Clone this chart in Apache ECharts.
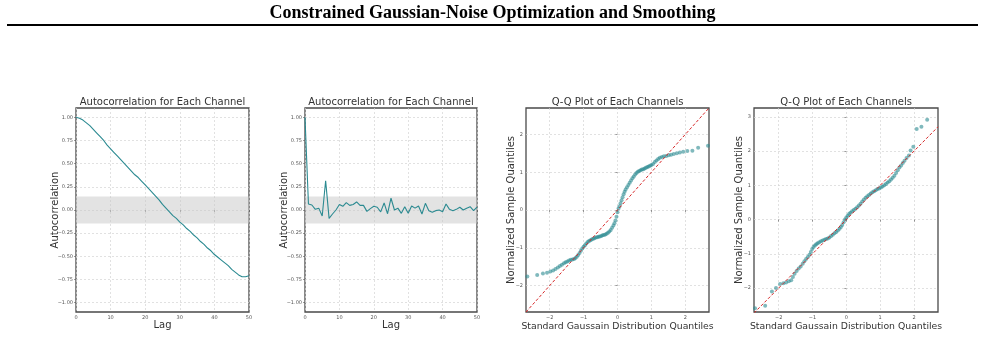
<!DOCTYPE html>
<html>
<head>
<meta charset="utf-8">
<script src="https://cdn.jsdelivr.net/npm/echarts@6/dist/echarts.min.js"></script>
<style>
  html, body { margin: 0; padding: 0; background: #fff; }
  #chart { width: 985px; height: 357px; }
</style>
</head>
<body>
<div id="chart"></div>
<script>
// autocorrelation, smoothed channel (lag 0..50)
const acfSmooth = [1.00, 0.99, 0.97, 0.94, 0.91, 0.87, 0.83, 0.79, 0.75, 0.70,
  0.66, 0.62, 0.58, 0.54, 0.50, 0.46, 0.42, 0.38, 0.35, 0.31,
  0.27, 0.23, 0.19, 0.15, 0.11, 0.06, 0.02, -0.02, -0.06, -0.09,
  -0.13, -0.16, -0.20, -0.23, -0.27, -0.30, -0.34, -0.37, -0.41, -0.44,
  -0.48, -0.51, -0.54, -0.57, -0.60, -0.64, -0.67, -0.70, -0.72, -0.72, -0.71];

// autocorrelation, noise channel (lag 0..50)
const acfNoise = [1.00, 0.065, 0.054, 0.007, 0.02, -0.065, 0.315, -0.09, -0.043, 0.0,
  0.06, 0.04, 0.08, 0.05, 0.06, 0.087, 0.05, 0.05, -0.015, 0.015,
  0.04, 0.03, -0.02, 0.076, -0.04, 0.127, 0.0, 0.02, -0.036, 0.036,
  -0.036, 0.043, 0.02, 0.043, -0.043, 0.072, -0.007, -0.025, -0.007, 0.0,
  -0.018, 0.065, 0.007, -0.007, 0.007, 0.03, 0.0, 0.02, 0.036, -0.007, 0.03];

const confBand = [-0.145, 0.145];
const acfTicks = [-1, -0.75, -0.5, -0.25, 0, 0.25, 0.5, 0.75, 1];
const lagTicks = [0, 10, 20, 30, 40, 50];

// Q-Q plot, left channel: [theoretical, sample]
const qqLeft = [
  [-2.66, -1.76], [-2.37, -1.72], [-2.20, -1.68], [-2.08, -1.66], [-1.98, -1.63],
  [-1.90, -1.60], [-1.83, -1.56], [-1.76, -1.52], [-1.70, -1.48], [-1.64, -1.45],
  [-1.58, -1.41], [-1.53, -1.38], [-1.48, -1.36], [-1.43, -1.34], [-1.38, -1.32],
  [-1.33, -1.31], [-1.28, -1.30], [-1.24, -1.27], [-1.20, -1.24], [-1.16, -1.19],
  [-1.12, -1.14], [-1.08, -1.08], [-1.04, -1.02], [-1.00, -0.97], [-0.96, -0.93],
  [-0.92, -0.89], [-0.88, -0.85], [-0.84, -0.82], [-0.80, -0.80], [-0.76, -0.78],
  [-0.72, -0.76], [-0.68, -0.75], [-0.64, -0.73], [-0.60, -0.72], [-0.56, -0.71],
  [-0.52, -0.70], [-0.48, -0.69], [-0.44, -0.67], [-0.40, -0.66], [-0.36, -0.65],
  [-0.32, -0.63], [-0.28, -0.60], [-0.24, -0.57], [-0.20, -0.53], [-0.16, -0.47],
  [-0.12, -0.41], [-0.09, -0.35], [-0.06, -0.28], [-0.03, -0.18], [0.00, -0.06],
  [0.03, 0.04], [0.06, 0.10], [0.09, 0.18], [0.12, 0.26], [0.15, 0.34],
  [0.18, 0.42], [0.21, 0.48], [0.24, 0.54], [0.28, 0.60], [0.32, 0.66],
  [0.36, 0.72], [0.40, 0.78], [0.44, 0.84], [0.48, 0.89], [0.52, 0.94],
  [0.56, 0.98], [0.60, 1.01], [0.64, 1.03], [0.68, 1.05], [0.72, 1.07],
  [0.76, 1.08], [0.80, 1.10], [0.84, 1.12], [0.88, 1.14], [0.92, 1.15],
  [0.96, 1.17], [1.00, 1.19], [1.05, 1.22], [1.10, 1.27], [1.15, 1.31],
  [1.20, 1.35], [1.25, 1.38], [1.31, 1.40], [1.37, 1.42], [1.44, 1.43],
  [1.51, 1.45], [1.58, 1.46], [1.66, 1.48], [1.75, 1.50], [1.84, 1.52],
  [1.94, 1.54], [2.06, 1.56], [2.21, 1.57], [2.38, 1.65], [2.67, 1.70]
];

// Q-Q plot, right channel: [theoretical, sample]
const qqRight = [
  [-2.70, -2.59], [-2.40, -2.52], [-2.20, -2.10], [-2.08, -2.00], [-1.96, -1.88],
  [-1.86, -1.86], [-1.78, -1.84], [-1.70, -1.80], [-1.63, -1.77], [-1.58, -1.68],
  [-1.53, -1.58], [-1.47, -1.50], [-1.41, -1.43], [-1.35, -1.37], [-1.29, -1.29],
  [-1.24, -1.22], [-1.19, -1.15], [-1.14, -1.09], [-1.09, -1.03], [-1.05, -0.95],
  [-1.01, -0.86], [-0.97, -0.80], [-0.93, -0.76], [-0.89, -0.72], [-0.85, -0.69],
  [-0.80, -0.66], [-0.75, -0.63], [-0.70, -0.61], [-0.65, -0.59], [-0.60, -0.57],
  [-0.55, -0.55], [-0.50, -0.52], [-0.45, -0.48], [-0.40, -0.44], [-0.35, -0.40],
  [-0.30, -0.36], [-0.25, -0.32], [-0.20, -0.27], [-0.16, -0.22], [-0.12, -0.16],
  [-0.08, -0.08], [-0.04, 0.00], [0.00, 0.06], [0.04, 0.11], [0.08, 0.16],
  [0.12, 0.20], [0.17, 0.24], [0.22, 0.28], [0.27, 0.32], [0.32, 0.36],
  [0.37, 0.41], [0.42, 0.46], [0.47, 0.53], [0.52, 0.59], [0.57, 0.64],
  [0.62, 0.68], [0.67, 0.72], [0.72, 0.76], [0.77, 0.80], [0.82, 0.83],
  [0.87, 0.86], [0.92, 0.89], [0.97, 0.91], [1.02, 0.94], [1.07, 0.97],
  [1.12, 1.00], [1.17, 1.04], [1.22, 1.08], [1.27, 1.12], [1.32, 1.17],
  [1.37, 1.22], [1.42, 1.28], [1.47, 1.36], [1.52, 1.44], [1.57, 1.52],
  [1.62, 1.58], [1.67, 1.65], [1.72, 1.72], [1.78, 1.80], [1.85, 1.87],
  [1.90, 2.02], [1.98, 2.13], [2.08, 2.65], [2.22, 2.71], [2.39, 2.92]
];

const qqRefLeft = [[-2.7, -2.7], [2.7, 2.7]];
const qqRefRight = [[-2.73, -2.73], [2.71, 2.71]];
const qqTicksLeft = [-2, -1, 0, 1, 2];
const qqTicksRightY = [-2, -1, 0, 1, 2, 3];

const mainTitle = 'Constrained Gaussian-Noise Optimization and Smoothing';
const acfTitle = 'Autocorrelation for Each Channel';
const qqTitle = 'Q-Q Plot of Each Channels';

const TEAL = '#2b8a91';
const FONT = 'DejaVu Sans';

const grids = [
  { left: 76, top: 108, width: 173, height: 204 },
  { left: 305, top: 108, width: 172, height: 204 },
  { left: 526, top: 108, width: 183, height: 204 },
  { left: 754, top: 108, width: 184, height: 204 }
];

const minusFmt = (dec) => (v) => {
  const s = dec ? v.toFixed(dec) : String(v);
  return s.replace('-', '\u2212');
};

function makeAxis(idx, opts) {
  return {
    gridIndex: idx,
    type: 'value',
    min: opts.min,
    max: opts.max,
    name: opts.name,
    nameLocation: 'middle',
    nameGap: opts.nameGap,
    nameMoveOverlap: false,
    nameTextStyle: { fontFamily: FONT, fontSize: opts.nameSize || 10, color: '#333' },
    axisLine: { show: false },
    axisTick: { show: true, length: 2, lineStyle: { color: '#555', width: 0.6 }, customValues: opts.ticks },
    axisLabel: {
      customValues: opts.ticks,
      fontFamily: FONT, fontSize: 5, color: '#555', margin: 3,
      formatter: minusFmt(opts.dec)
    },
    splitLine: { show: true, lineStyle: { color: '#d4d4d4', type: [2, 2], width: 0.7 } }
  };
}

const xAxes = [
  makeAxis(0, { min: 0, max: 50, ticks: lagTicks, name: 'Lag', nameGap: 8 }),
  makeAxis(1, { min: 0, max: 50, ticks: lagTicks, name: 'Lag', nameGap: 8 }),
  makeAxis(2, { min: -2.7, max: 2.7, ticks: qqTicksLeft, name: 'Standard Gaussain Distribution Quantiles', nameGap: 10, nameSize: 9.3 }),
  makeAxis(3, { min: -2.73, max: 2.71, ticks: qqTicksLeft, name: 'Standard Gaussain Distribution Quantiles', nameGap: 10, nameSize: 9.3 })
];
const yAxes = [
  makeAxis(0, { min: -1.1, max: 1.1, ticks: acfTicks, dec: 2, name: 'Autocorrelation', nameGap: 16 }),
  makeAxis(1, { min: -1.1, max: 1.1, ticks: acfTicks, dec: 2, name: 'Autocorrelation', nameGap: 16 }),
  makeAxis(2, { min: -2.7, max: 2.7, ticks: qqTicksLeft, name: 'Normalized Sample Quantiles', nameGap: 10 }),
  makeAxis(3, { min: -2.7, max: 3.26, ticks: qqTicksRightY, name: 'Normalized Sample Quantiles', nameGap: 10 })
];

const bandArea = {
  silent: true,
  itemStyle: { color: 'rgba(200,200,200,0.5)' },
  data: [[{ yAxis: confBand[0] }, { yAxis: confBand[1] }]]
};

function acfSeries(idx, values) {
  return {
    type: 'line',
    xAxisIndex: idx, yAxisIndex: idx,
    data: values.map((v, i) => [i, v]),
    showSymbol: false,
    lineStyle: { color: TEAL, width: 1.1 },
    markArea: bandArea,
    z: 3
  };
}

function qqSeries(idx, pts, ref) {
  return [
    {
      type: 'scatter',
      xAxisIndex: idx, yAxisIndex: idx,
      data: pts,
      symbolSize: 4,
      itemStyle: { color: TEAL, opacity: 0.6 },
      z: 3
    },
    {
      type: 'line',
      xAxisIndex: idx, yAxisIndex: idx,
      data: ref,
      showSymbol: false,
      lineStyle: { color: '#d62728', width: 1, type: [3, 2] },
      z: 4
    }
  ];
}

const titles = grids.map((g, i) => ({
  text: i < 2 ? acfTitle : qqTitle,
  left: g.left + g.width / 2,
  top: 97,
  padding: 0,
  textAlign: 'center',
  textStyle: { fontFamily: FONT, fontSize: 10, fontWeight: 'normal', color: '#333' }
}));

const chart = echarts.init(document.getElementById('chart'), null, { renderer: 'canvas' });
chart.setOption({
  animation: false,
  backgroundColor: '#fff',
  title: titles,
  grid: grids.map(g => Object.assign({
    show: true, borderColor: '#4a4a4a', borderWidth: 1.3, backgroundColor: 'transparent'
  }, g)),
  xAxis: xAxes,
  yAxis: yAxes,
  series: [
    acfSeries(0, acfSmooth),
    acfSeries(1, acfNoise),
    ...qqSeries(2, qqLeft, qqRefLeft),
    ...qqSeries(3, qqRight, qqRefRight)
  ],
  graphic: [
    {
      type: 'text', left: 'center', top: 4,
      style: { text: mainTitle, font: 'bold 18px "Liberation Serif"', fill: '#000' }
    },
    {
      type: 'line',
      shape: { x1: 7, y1: 25, x2: 978, y2: 25 },
      style: { stroke: '#000', lineWidth: 2.2 }
    }
  ]
});
</script>
</body>
</html>
